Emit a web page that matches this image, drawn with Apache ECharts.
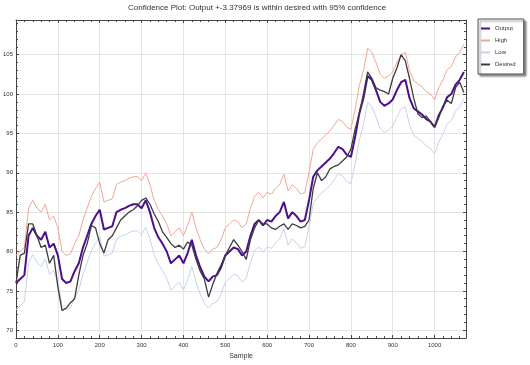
<!DOCTYPE html>
<html><head><meta charset="utf-8">
<script src="https://cdn.jsdelivr.net/npm/echarts@6/dist/echarts.min.js"></script>
<style>html,body{margin:0;padding:0;background:#fff}#c{width:530px;height:365px}</style>
</head><body><div id="c"></div>
<script>
const STEP = 10;
const titleText = 'Confidence Plot: Output +-3.37969 is within desired with 95% confidence';
const seriesNames = ['Output', 'High', 'Low', 'Desired'];
const output = [76,76.5,77,82,83,82,81.5,82.5,80.5,81,
79.5,76.5,76,76.2,77.5,78.5,80.5,82,83.5,84.5,
85.3,82.8,83,83.2,85,85.3,85.5,85.8,86,86,
85.5,86.5,85,83,81.8,81,80,78.5,79,79.5,
78.5,79.8,81.5,79.5,78,76.8,76.2,76.8,77,78,
79.5,80,80.5,80.3,79.5,80,82,83.5,84,83.3,
84,83.8,84.5,85,86.3,84.2,85,84.5,83.8,84,
86.5,89.5,90.3,90.8,91.3,91.8,92.5,93.3,93,92.3,
92,94.5,97.5,99.5,102.3,101.8,100.5,99,98.5,98.8,
99.3,100.5,101.5,101.8,99.5,98.2,97.8,97.4,96.8,96.5,
95.8,97.3,98.3,99.6,100,101.2,101.8,102.8];
const high = [79.5,80,80.5,85.5,86.5,85.5,85,86,84,84.5,
83,80,79.5,79.7,81,82,84,85.5,87,88,
88.8,86.3,86.5,86.7,88.5,88.8,89,89.3,89.5,89.5,
89,90,88.5,86.5,85.3,84.5,83.5,82,82.5,83,
82,83.3,85,83,81.5,80.3,79.7,80.3,80.5,81.5,
83,83.5,84,83.8,83,83.5,85.5,87,87.5,86.8,
87.5,87.3,88,88.5,89.8,87.7,88.5,88,87.3,87.5,
90,93,93.8,94.3,94.8,95.3,96,96.8,96.5,95.8,
95.5,98,101,103,105.8,105.3,104,102.5,102,102.3,
102.8,104,105,105.3,103,101.7,101.3,100.9,100.3,100,
99.3,100.8,101.8,103.1,103.5,104.7,105.3,106.3];
const low = [72.6,73.1,73.6,78.6,79.6,78.6,78.1,79.1,77.1,77.6,
76.1,73.1,72.6,72.8,74.1,75.1,77.1,78.6,80.1,81.1,
81.9,79.4,79.6,79.8,81.6,81.9,82.1,82.4,82.6,82.6,
82.1,83.1,81.6,79.6,78.4,77.6,76.6,75.1,75.6,76.1,
75.1,76.4,78.1,76.1,74.6,73.4,72.8,73.4,73.6,74.6,
76.1,76.6,77.1,76.9,76.1,76.6,78.6,80.1,80.6,79.9,
80.6,80.4,81.1,81.6,82.9,80.8,81.6,81.1,80.4,80.6,
83.1,86.1,86.9,87.4,87.9,88.4,89.1,89.9,89.6,88.9,
88.6,91.1,94.1,96.1,98.9,98.4,97.1,95.6,95.1,95.4,
95.9,97.1,98.1,98.4,96.1,94.8,94.4,94,93.4,93.1,
92.4,93.9,94.9,96.2,96.6,97.8,98.4,99.4];
const desired = [76,79.5,79.8,83.5,83.5,82,80.5,80.8,78.5,79.5,
75.5,72.5,72.8,73.5,74,77,79.5,81,83.3,83,
81,79.8,81.5,82,83,84,84.5,85,85.3,85.8,
86.5,86.8,86,84.8,83.8,82.5,81.8,81,80.5,80.8,
80.3,81.2,80.8,79,77.5,76.5,74.2,75.8,77.2,78.3,
79.5,80.5,81.5,80.8,80,79,81.5,83,84,83.5,
83.5,83,82.8,83.2,83.5,82.8,83.5,83.3,83,83.2,
84,88,90,89,89.5,90.5,90.8,91,91.5,92,
93,95.5,97.5,100,102.8,102,100.8,100.5,100.3,100,
102,103.3,105,104.2,102,99.5,97.5,97,97.2,96.5,
95.8,97,98.5,99.2,98.8,100.8,101.5,100.2];

const samples = output.map((_, i) => i * STEP);
const pair = arr => arr.map((v, i) => [samples[i], v]);
const FONT = '"Liberation Sans Narrow","Arial Narrow","Liberation Sans",Arial,sans-serif';

const chart = echarts.init(document.getElementById('c'), null, {renderer: 'canvas'});
const frameColor = '#444';
const lbl = {fontFamily: FONT, fontSize: 6, color: '#333'};
const xBase = {type: 'value', min: 0, max: 1075, interval: 100,
  axisLine: {show: true, onZero: false, lineStyle: {color: frameColor, width: 1}},
  axisTick: {show: true, inside: true, length: 3, lineStyle: {color: frameColor}},
  minorTick: {show: true, splitNumber: 5, length: 2, lineStyle: {color: frameColor}}};
const yBase = {type: 'value', min: 69, max: 109.4, splitNumber: 8,
  axisLine: {show: true, onZero: false, lineStyle: {color: frameColor, width: 1}},
  axisTick: {show: true, inside: true, length: 3, lineStyle: {color: frameColor}},
  minorTick: {show: true, splitNumber: 5, length: 2, lineStyle: {color: frameColor}}};

chart.setOption({
  animation: false,
  graphic: [{type: 'text', left: 128, top: 4,
    style: {text: titleText, font: '8px ' + FONT, fill: '#333'}}],
  legend: {
    data: seriesNames, orient: 'vertical', left: 478, top: 19,
    padding: [6, 8, 6, 3], itemGap: 5, itemWidth: 9, itemHeight: 2, icon: 'rect',
    backgroundColor: '#fff', borderColor: '#555', borderWidth: 1,
    shadowColor: 'rgba(0,0,0,0.45)', shadowBlur: 2, shadowOffsetX: 2, shadowOffsetY: 2,
    textStyle: {fontFamily: FONT, fontSize: 6, color: '#333', lineHeight: 7}
  },
  grid: {left: 15.7, right: 64, top: 20, bottom: 26},
  xAxis: [
    Object.assign({}, xBase, {position: 'bottom', name: 'Sample', nameLocation: 'middle', nameGap: 12,
      nameTextStyle: {fontFamily: FONT, fontSize: 7, color: '#333'},
      axisLabel: Object.assign({margin: 4, showMaxLabel: false, formatter: v => String(v)}, lbl),
      splitLine: {show: true, lineStyle: {color: '#e4e4e4', width: 1}}}),
    Object.assign({}, xBase, {position: 'top', axisLabel: {show: false}, splitLine: {show: false}})
  ],
  yAxis: [
    Object.assign({}, yBase, {position: 'left',
      axisLabel: Object.assign({margin: 3, showMinLabel: false, showMaxLabel: false,
        formatter: v => (Math.abs(v % 5) < 1e-6 ? String(v) : '')}, lbl),
      splitLine: {show: true, lineStyle: {color: '#e4e4e4', width: 1}}}),
    Object.assign({}, yBase, {position: 'right', axisLabel: {show: false}, splitLine: {show: false}})
  ],
  series: [
    {name: 'High', type: 'line', data: pair(high), symbol: 'none', xAxisIndex: 0, yAxisIndex: 0,
      lineStyle: {color: '#f6a393', width: 1}, itemStyle: {color: '#f6a393'}, z: 2},
    {name: 'Low', type: 'line', data: pair(low), symbol: 'none', xAxisIndex: 0, yAxisIndex: 0,
      lineStyle: {color: '#c4d3ec', width: 1}, itemStyle: {color: '#c4d3ec'}, z: 2},
    {name: 'Output', type: 'line', data: pair(output), symbol: 'none', xAxisIndex: 0, yAxisIndex: 0,
      lineStyle: {color: '#4b0f8f', width: 2}, itemStyle: {color: '#4b0f8f'}, z: 3},
    {name: 'Desired', type: 'line', data: pair(desired), symbol: 'none', xAxisIndex: 0, yAxisIndex: 0,
      lineStyle: {color: '#3c3c3c', width: 1.3}, itemStyle: {color: '#3c3c3c'}, z: 4}
  ]
});
</script></body></html>
